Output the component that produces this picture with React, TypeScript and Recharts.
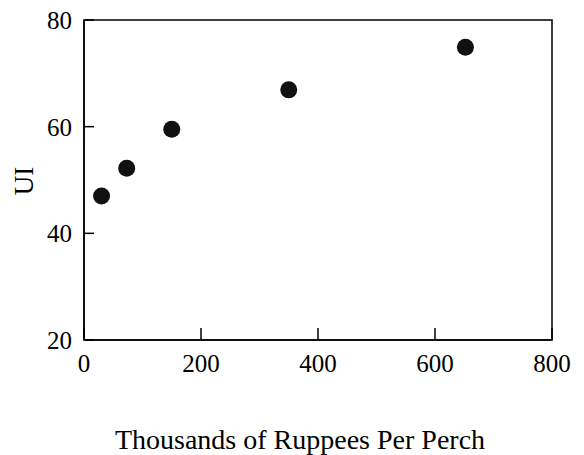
import React from 'react';
import {
  ScatterChart,
  Scatter,
  XAxis,
  YAxis,
  ReferenceArea,
} from 'recharts';

// Thousands of rupees per perch vs UI
const costs = [30, 73, 150, 350, 652];
const uiValues = [47, 52.2, 59.5, 66.9, 74.9];
const xTicks = [0, 200, 400, 600, 800];
const yTicks = [20, 40, 60, 80];

const points = costs.map((x, i) => ({ x, y: uiValues[i] }));

const FONT = '"Liberation Serif", "Times New Roman", serif';

// rotated y label, centred on the plot height
const YLabel = (props: any) => {
  const { x, y, height } = props.viewBox;
  const cx = x + 24;
  const cy = y + height / 2 + 1;
  return (
    <text
      x={cx}
      y={cy}
      transform={`rotate(-90, ${cx}, ${cy})`}
      textAnchor="middle"
      dominantBaseline="central"
      fill="#000"
      fontSize={27}
      fontFamily={FONT}
    >
      UI
    </text>
  );
};

const App: React.FC = () => {
  return (
    <div style={{ position: 'absolute', left: 0, top: 0, background: '#fff' }}>
      <ScatterChart
        width={584}
        height={455}
        margin={{ top: 20, right: 32, bottom: 0, left: 0 }}
      >
        <ReferenceArea
          x1={0}
          x2={800}
          y1={20}
          y2={80}
          fill="none"
          stroke="#000"
          strokeWidth={1.5}
          fillOpacity={0}
        />
        <XAxis
          type="number"
          dataKey="x"
          domain={[0, 800]}
          ticks={xTicks}
          height={115}
          axisLine={{ stroke: '#000', strokeWidth: 1.5 }}
          tickLine={{ stroke: '#000', strokeWidth: 1.5 }}
          tickSize={-12}
          tickMargin={26}
          tick={{ fill: '#000', fontSize: 25, fontFamily: FONT }}
          label={{
            value: 'Thousands of Ruppees Per Perch',
            position: 'insideBottom',
            offset: 6,
            dx: -18,
            fill: '#000',
            fontSize: 28,
            fontFamily: FONT,
          }}
        />
        <YAxis
          type="number"
          dataKey="y"
          domain={[20, 80]}
          ticks={yTicks}
          width={84}
          axisLine={{ stroke: '#000', strokeWidth: 1.5 }}
          tickLine={{ stroke: '#000', strokeWidth: 1.5 }}
          tickSize={-10}
          tickMargin={22}
          tick={{ fill: '#000', fontSize: 25, fontFamily: FONT }}
          label={{ content: YLabel }}
        />
        <Scatter
          data={points}
          fill="#000"
          isAnimationActive={false}
          shape={(props: any) => (
            <circle cx={props.cx} cy={props.cy} r={8.5} fill="#111" />
          )}
        />
      </ScatterChart>
    </div>
  );
};

export default App;
